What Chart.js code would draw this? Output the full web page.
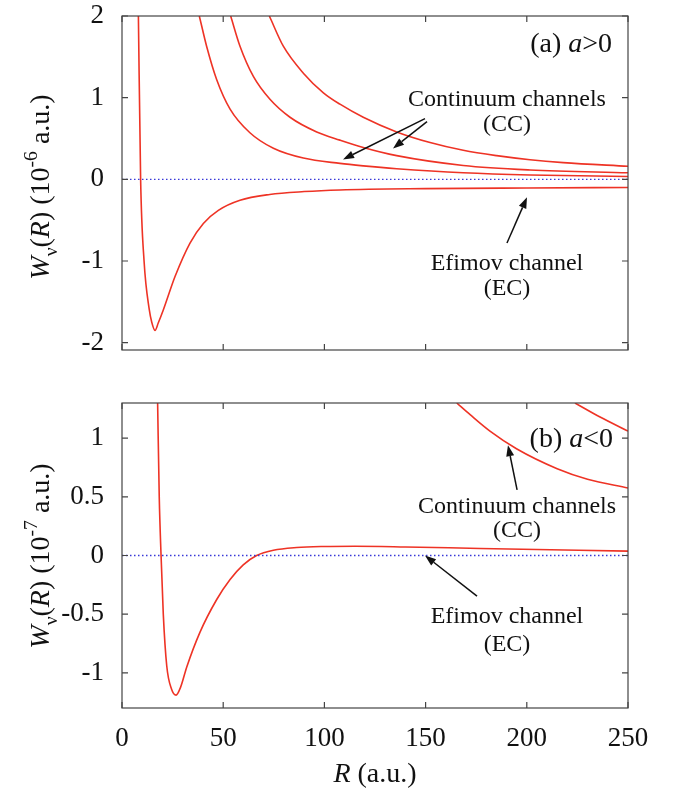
<!DOCTYPE html>
<html>
<head>
<meta charset="utf-8">
<title>Efimov and continuum channels</title>
<script src="https://cdn.jsdelivr.net/npm/chart.js@4.4.0/dist/chart.umd.min.js"></script>
<style>
  body { margin: 0; background: #fff; }
  #wrap { position: relative; width: 677px; height: 799px; }
  canvas { position: absolute; left: 0; }
  #top-chart { top: 0; }
  #bottom-chart { top: 390px; }
</style>
</head>
<body>
<div id="wrap">
  <canvas id="top-chart" width="677" height="390"></canvas>
  <canvas id="bottom-chart" width="677" height="409"></canvas>
</div>
<script>
// ---- values, R in a.u. ----
const xTicks = [0, 50, 100, 150, 200, 250];
const yTicksA = [-2, -1, 0, 1, 2];
const yTicksB = [-1, -0.5, 0, 0.5, 1];
const zeroLineR = [0, 250];
const zeroLineW = [0, 0];

// panel (a), a > 0, W in 1e-6 a.u.
const rEfimovA = [8.1, 9.2, 10.9, 13.5, 14.7, 16.3, 17.9, 20.4, 26.2, 33.6, 40.2, 47.6, 58.3, 73, 90, 107.7, 150, 200, 250];
const wEfimovA = [2.0, 0.0, -1.0, -1.60, -1.75, -1.85, -1.76, -1.60, -1.19, -0.78, -0.54, -0.38, -0.256, -0.185, -0.15, -0.13, -0.114, -0.106, -0.10];
const rCont1A = [38.2, 41.8, 46.8, 53.4, 63.2, 74.8, 89.6, 107.7, 119.2, 135.7, 168.6, 201.6, 250];
const wCont1A = [2.0, 1.63, 1.22, 0.86, 0.57, 0.38, 0.26, 0.195, 0.165, 0.13, 0.08, 0.053, 0.035];
const rCont2A = [53.7, 58.3, 64.9, 73.1, 83, 96.2, 107.7, 119.2, 135.7, 168.6, 201.6, 250];
const wCont2A = [2.0, 1.63, 1.26, 0.98, 0.76, 0.58, 0.48, 0.39, 0.29, 0.17, 0.115, 0.08];
const rCont3A = [72.8, 79.7, 89.6, 99.5, 107.7, 119.2, 135.7, 152.2, 168.6, 185.1, 201.6, 218, 250];
const wCont3A = [2.0, 1.63, 1.30, 1.06, 0.92, 0.76, 0.58, 0.45, 0.355, 0.29, 0.24, 0.205, 0.16];

// panel (b), a < 0, W in 1e-7 a.u.
const rEfimovB = [17.6, 18.4, 19.3, 20.4, 22.1, 24.5, 26.7, 29, 32, 38.5, 46.8, 53.4, 59.9, 66.5, 74.8, 86.3, 100, 115, 140, 177, 250];
const wEfimovB = [1.3, 0.5, 0, -0.5, -0.94, -1.14, -1.19, -1.12, -0.95, -0.655, -0.375, -0.205, -0.08, 0, 0.045, 0.068, 0.077, 0.079, 0.073, 0.06, 0.037];
const rCont1B = [165.4, 172, 181.8, 194.9, 215, 230, 250];
const wCont1B = [1.30, 1.20, 1.06, 0.91, 0.74, 0.65, 0.575];
const rCont2B = [223.8, 236.2, 250];
const wCont2B = [1.30, 1.18, 1.06];

// ---- styling ----
const SERIF = '"Liberation Serif", "Times New Roman", serif';
const RED = '#ee3325';
const BLUE = '#3838d8';
const INK = '#111';
const tickFont = { family: SERIF, size: 27 };

function curve(rs, ws) {
    return rs.map((r, i) => ({ x: r, y: ws[i] }));
}

function redSet(rs, ws) {
    return {
        data: curve(rs, ws),
        borderColor: RED,
        borderWidth: 1.6,
        pointRadius: 0,
        cubicInterpolationMode: 'monotone',
        fill: false
    };
}

function zeroSet() {
    return {
        data: curve(zeroLineR, zeroLineW),
        borderColor: BLUE,
        borderWidth: 1.3,
        borderDash: [1.5, 2.5],
        pointRadius: 0,
        fill: false
    };
}

// draw a run of text pieces (italic / sub / sup) from x on baseline y
function drawRich(ctx, segs, x, y, size, align) {
    const fontOf = s => (s.it ? 'italic ' : '') + ((s.sub || s.sup) ? size * 0.7 : size) + 'px ' + SERIF;
    let total = 0;
    const widths = segs.map(s => {
        ctx.font = fontOf(s);
        const w = ctx.measureText(s.t).width;
        total += w;
        return w;
    });
    let cx = align === 'right' ? x - total : align === 'center' ? x - total / 2 : x;
    ctx.textAlign = 'left';
    segs.forEach((s, i) => {
        ctx.font = fontOf(s);
        const dy = s.sub ? size * 0.28 : s.sup ? -size * 0.42 : 0;
        ctx.fillText(s.t, cx, y + dy);
        cx += widths[i];
    });
}

function drawArrow(ctx, x0, y0, x1, y1) {
    const ang = Math.atan2(y1 - y0, x1 - x0);
    const len = 11, half = 4;
    const bx = x1 - len * Math.cos(ang), by = y1 - len * Math.sin(ang);
    ctx.beginPath();
    ctx.moveTo(x0, y0);
    ctx.lineTo(bx, by);
    ctx.stroke();
    ctx.beginPath();
    ctx.moveTo(x1, y1);
    ctx.lineTo(bx + half * Math.sin(ang), by - half * Math.cos(ang));
    ctx.lineTo(bx - half * Math.sin(ang), by + half * Math.cos(ang));
    ctx.closePath();
    ctx.fill();
}

// frame with inward ticks on all sides, labels, arrows and axis titles
const decor = {
    id: 'decor',
    afterDraw(chart, args, opts) {
        const { ctx, chartArea: a } = chart;
        const x = chart.scales.x, y = chart.scales.y;
        ctx.save();

        ctx.strokeStyle = '#444';
        ctx.lineWidth = 1.2;
        ctx.strokeRect(a.left, a.top, a.right - a.left, a.bottom - a.top);
        ctx.beginPath();
        xTicks.forEach(v => {
            const px = x.getPixelForValue(v);
            ctx.moveTo(px, a.bottom); ctx.lineTo(px, a.bottom - 6);
            ctx.moveTo(px, a.top); ctx.lineTo(px, a.top + 6);
        });
        opts.yTicks.forEach(v => {
            const py = y.getPixelForValue(v);
            ctx.moveTo(a.left, py); ctx.lineTo(a.left + 6, py);
            ctx.moveTo(a.right, py); ctx.lineTo(a.right - 6, py);
        });
        ctx.stroke();

        ctx.fillStyle = INK;
        ctx.strokeStyle = INK;
        ctx.textBaseline = 'middle';
        opts.notes.forEach(n => {
            drawRich(ctx, n.segs, x.getPixelForValue(n.r), y.getPixelForValue(n.w), n.size, n.align);
        });

        ctx.lineWidth = 1.5;
        opts.arrows.forEach(ar => {
            drawArrow(ctx,
                x.getPixelForValue(ar.from[0]), y.getPixelForValue(ar.from[1]),
                x.getPixelForValue(ar.to[0]), y.getPixelForValue(ar.to[1]));
        });

        // rotated y title
        ctx.save();
        ctx.translate(opts.yTitle.x, opts.yTitle.y);
        ctx.rotate(-Math.PI / 2);
        ctx.textBaseline = 'alphabetic';
        drawRich(ctx, opts.yTitle.segs, 0, 0, 28, 'center');
        ctx.restore();

        if (opts.xTitle) {
            ctx.textBaseline = 'alphabetic';
            drawRich(ctx, [{ t: 'R', it: true }, { t: ' (a.u.)' }],
                (a.left + a.right) / 2, opts.xTitle.y, 28, 'center');
        }
        ctx.restore();
    }
};

function makeChart(id, cfg) {
    return new Chart(document.getElementById(id).getContext('2d'), {
        type: 'line',
        data: { datasets: cfg.datasets },
        options: {
            responsive: false,
            animation: false,
            events: [],
            layout: { padding: cfg.padding },
            plugins: {
                legend: { display: false },
                tooltip: { enabled: false },
                decor: cfg.decor
            },
            scales: {
                x: {
                    type: 'linear', min: 0, max: 250,
                    afterBuildTicks: s => { s.ticks = xTicks.map(v => ({ value: v })); },
                    afterFit: s => { s.height = cfg.xHeight; s.paddingLeft = 0; s.paddingRight = 0; },
                    grid: { display: false, drawTicks: false },
                    border: { display: false },
                    ticks: {
                        display: cfg.xLabels, padding: 15, font: tickFont, color: INK,
                        maxRotation: 0, autoSkip: false, callback: v => String(v)
                    }
                },
                y: {
                    type: 'linear', min: cfg.yMin, max: cfg.yMax,
                    afterBuildTicks: s => { s.ticks = cfg.decor.yTicks.map(v => ({ value: v })); },
                    afterFit: s => { s.width = 122; s.paddingTop = 0; s.paddingBottom = 0; },
                    grid: { display: false, drawTicks: false },
                    border: { display: false },
                    ticks: { padding: 18, font: tickFont, color: INK, callback: v => String(v) }
                }
            }
        },
        plugins: [decor]
    });
}

makeChart('top-chart', {
    padding: { left: 0, right: 49, top: 16, bottom: 0 },
    xHeight: 40,
    xLabels: false,
    yMin: -2.09, yMax: 2,
    datasets: [
        zeroSet(),
        redSet(rEfimovA, wEfimovA),
        redSet(rCont1A, wCont1A),
        redSet(rCont2A, wCont2A),
        redSet(rCont3A, wCont3A)
    ],
    decor: {
        yTicks: yTicksA,
        yTitle: {
            x: 49, y: 187,
            segs: [{ t: 'W', it: true }, { t: 'ν', sub: true }, { t: '(' }, { t: 'R', it: true },
                   { t: ') (10' }, { t: '-6', sup: true }, { t: ' a.u.)' }]
        },
        notes: [
            { r: 242.1, w: 1.646, size: 28, align: 'right', segs: [{ t: '(a) ' }, { t: 'a', it: true }, { t: '>0' }] },
            { r: 190.2, w: 0.976, size: 24, align: 'center', segs: [{ t: 'Continuum channels' }] },
            { r: 190.2, w: 0.67, size: 24, align: 'center', segs: [{ t: '(CC)' }] },
            { r: 190.2, w: -1.037, size: 24, align: 'center', segs: [{ t: 'Efimov channel' }] },
            { r: 190.2, w: -1.341, size: 24, align: 'center', segs: [{ t: '(EC)' }] }
        ],
        arrows: [
            { from: [149.7, 0.744], to: [109.2, 0.244] },
            { from: [150.7, 0.707], to: [133.9, 0.378] },
            { from: [190.2, -0.78], to: [200.1, -0.22] }
        ]
    }
});

makeChart('bottom-chart', {
    padding: { left: 0, right: 49, top: 13, bottom: 0 },
    xHeight: 91,
    xLabels: true,
    yMin: -1.3, yMax: 1.3,
    datasets: [
        zeroSet(),
        redSet(rEfimovB, wEfimovB),
        redSet(rCont1B, wCont1B),
        redSet(rCont2B, wCont2B)
    ],
    decor: {
        yTicks: yTicksB,
        yTitle: {
            x: 49, y: 166,
            segs: [{ t: 'W', it: true }, { t: 'ν', sub: true }, { t: '(' }, { t: 'R', it: true },
                   { t: ') (10' }, { t: '-7', sup: true }, { t: ' a.u.)' }]
        },
        xTitle: { y: 392 },
        notes: [
            { r: 242.6, w: 0.99, size: 28, align: 'right', segs: [{ t: '(b) ' }, { t: 'a', it: true }, { t: '<0' }] },
            { r: 195.2, w: 0.415, size: 24, align: 'center', segs: [{ t: 'Continuum channels' }] },
            { r: 195.2, w: 0.212, size: 24, align: 'center', segs: [{ t: '(CC)' }] },
            { r: 190.2, w: -0.525, size: 24, align: 'center', segs: [{ t: 'Efimov channel' }] },
            { r: 190.2, w: -0.763, size: 24, align: 'center', segs: [{ t: '(EC)' }] }
        ],
        arrows: [
            { from: [195.2, 0.56], to: [190.7, 0.94] },
            { from: [175.4, -0.347], to: [149.7, 0] }
        ]
    }
});
</script>
</body>
</html>
